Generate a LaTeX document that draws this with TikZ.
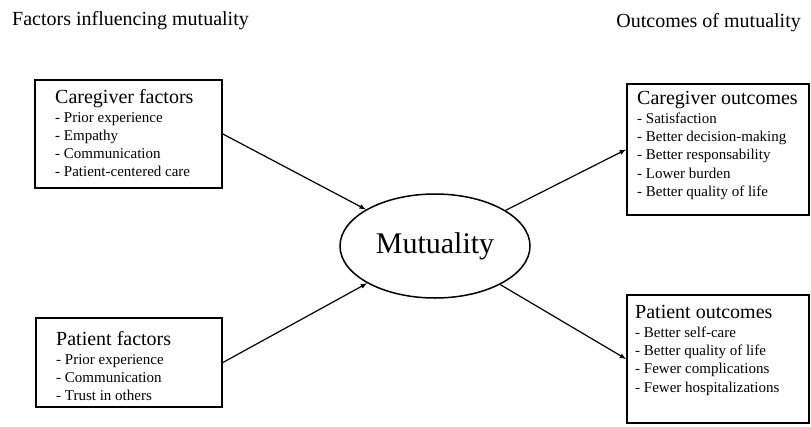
\documentclass[tikz,border=0pt]{standalone}
\usepackage{fontspec}
\setmainfont{Liberation Serif}
\usetikzlibrary{shapes.geometric}

\newcommand{\boxhead}[1]{{\fontsize{20}{18.3}\selectfont #1}}

\tikzset{
    factorbox/.style={draw, line width=1.8pt, inner sep=0pt},
    itemlist/.style={anchor=north west, inner sep=0pt, align=left,
        font=\fontsize{15}{18.3}\selectfont},
    titletext/.style={inner sep=0pt, font=\fontsize{20}{24}\selectfont}
}

\begin{document}
\begin{tikzpicture}[x=1pt, y=-1pt]
        \useasboundingbox (0,0) rectangle (811,426);

        % titles
        \node[titletext, anchor=base west] (ftitle) at (12,25) {Factors influencing mutuality};
        \node[titletext, anchor=base east] (otitle) at (801,27) {Outcomes of mutuality};

        % boxes
        \node[factorbox, minimum width=187pt, minimum height=108pt] (cgf) at (128.5,134) {};
        \node[factorbox, minimum width=186pt, minimum height=89pt] (ptf) at (129,362.5) {};
        \node[factorbox, minimum width=182pt, minimum height=131pt] (cgo) at (718,149.5) {};
        \node[factorbox, minimum width=182pt, minimum height=128pt] (pto) at (718,359) {};

        % box texts
        \node[itemlist] (cgftext) at (55,89.5) {\boxhead{Caregiver factors}\\
            - Prior experience\\ - Empathy\\ - Communication\\ - Patient-centered care};
        \node[itemlist] (ptftext) at (56,331.5) {\boxhead{Patient factors}\\
            - Prior experience\\ - Communication\\ - Trust in others};
        \node[itemlist] (cgotext) at (637,91.5) {\boxhead{Caregiver outcomes}\\
            - Satisfaction\\ - Better decision-making\\ - Better responsability\\
            - Lower burden\\ - Better quality of life};
        \node[itemlist] (ptotext) at (635,305.5) {\boxhead{Patient outcomes}\\
            - Better self-care\\ - Better quality of life\\ - Fewer complications\\
            - Fewer hospitalizations};

        % centre
        \node[draw, ellipse, line width=1.5pt, minimum width=190pt, minimum height=104pt,
            font=\fontsize{30}{36}\selectfont] (mut) at (435,246) {Mutuality};

        \foreach \s/\t in {cgf.east/mut, ptf.east/mut, mut/cgo.west, mut/pto.west} {
            \draw[line width=1.2pt, ->, >=latex] (\s) -- (\t);
        }
    \end{tikzpicture}
\end{document}
